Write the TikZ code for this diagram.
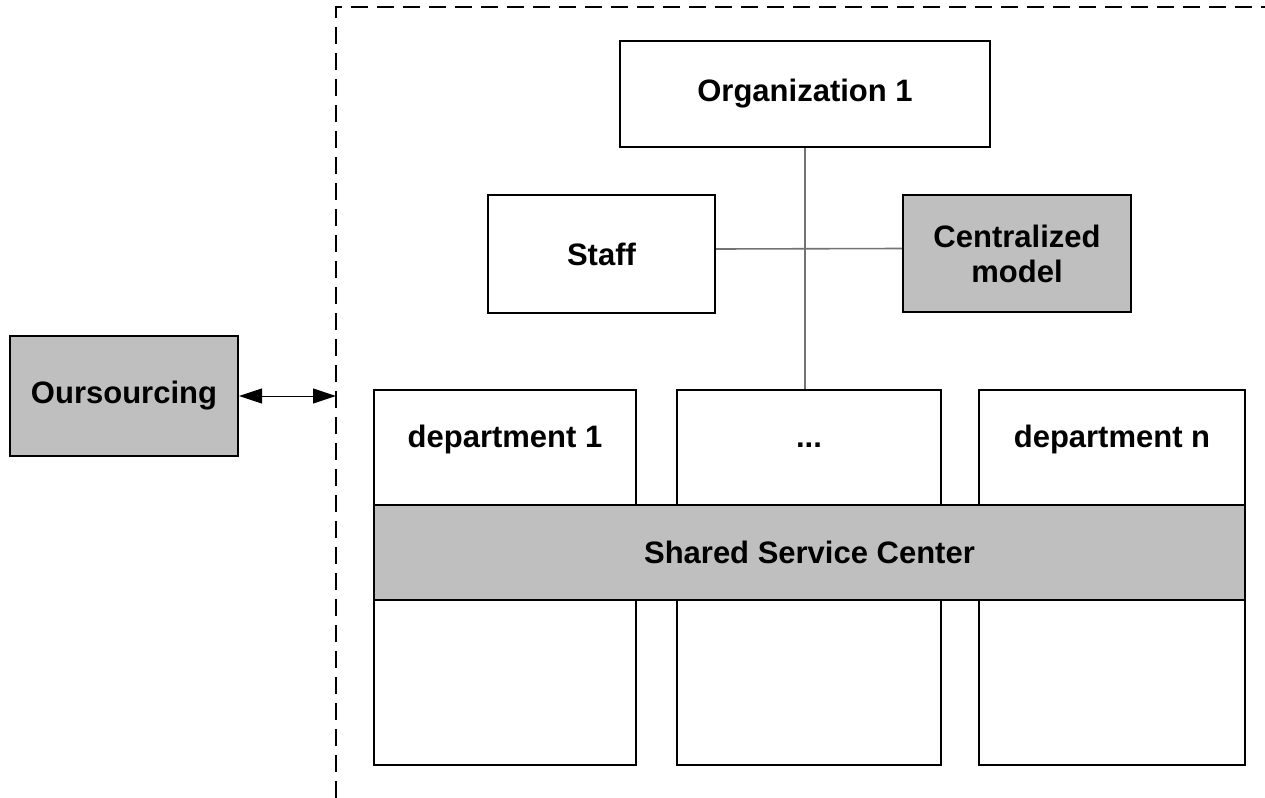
\documentclass[tikz,border=0pt]{standalone}
\usepackage{fontspec}
\setmainfont{Liberation Sans}
\usetikzlibrary{arrows.meta}

\begin{document}
\begin{tikzpicture}[x=0.5pt,y=-0.5pt,
    box/.style={rectangle,draw,line width=1pt,font=\fontsize{15.5}{17.5}\selectfont\bfseries,align=center,inner sep=0pt},
    graybox/.style={box,fill=black!25},
    dept/.style={box,minimum height=187.5pt,label={[anchor=base,yshift=-29pt,font=\fontsize{15.5}{18}\selectfont\bfseries]north:#1}},
    link/.style={draw=black!55,line width=0.8pt}]

\useasboundingbox (0,0) rectangle (1265,798);

\coordinate (fb) at (336,798);
\coordinate (fc) at (336,7);
\coordinate (fr) at (1265,7);
\draw[line width=1pt,dash pattern=on 8.5pt off 4.5pt] (fb) -- (fc) -- (fr);

\node[box,minimum width=185pt,minimum height=53pt] (org) at (805,94) {Organization 1};
\node[box,minimum width=113.5pt,minimum height=59pt] (staff) at (601.5,254) {Staff};
\node[graybox,minimum width=114pt,minimum height=58.5pt] (cm) at (1017,253.5) {Centralized\\model};
\node[graybox,minimum width=114pt,minimum height=60pt] (outs) at (124,396) {Oursourcing};

\node[dept=department 1,minimum width=131pt] (d1) at (505,577.5) {};
\node[dept=...,minimum width=132pt] (dd) at (809,577.5) {};
\node[dept=department n,minimum width=133pt] (dn) at (1112,577.5) {};
\node[graybox,minimum width=435.5pt,minimum height=47.5pt] (ssc) at (809.5,552.5) {Shared Service Center};

\draw[link] (org.south) -- (org.south |- dd.north);
\draw[link] ([yshift=2.5pt]staff.east) -- ([yshift=2.5pt]cm.west);
\draw[{Triangle[length=11.5pt,width=7.5pt]}-{Triangle[length=11.5pt,width=7.5pt]},line width=0.5pt] (outs.east) -- (outs.east -| fc);
\end{tikzpicture}
\end{document}
